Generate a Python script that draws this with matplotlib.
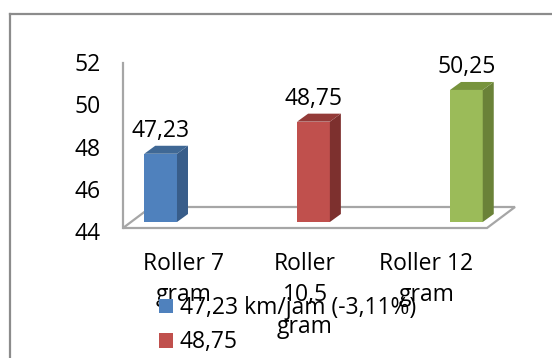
import matplotlib
matplotlib.use("Agg")
import matplotlib.pyplot as plt
from matplotlib.patches import Polygon, Patch
from matplotlib.lines import Line2D
from matplotlib.transforms import ScaledTranslation

plt.rcParams['font.family'] = ['Open Sans', 'DejaVu Sans']

# data
CATEGORIES = ["Roller 7\ngram", "Roller\n10,5\ngram", "Roller 12\ngram"]
SPEEDS = [47.23, 48.75, 50.25]
LEGEND_LABELS = ["47,23 km/jam (-3,11%)", "48,75"]
Y_TICKS = [44, 46, 48, 50, 52]

FRONT = ["#4F81BD", "#C0504D", "#9BBB59"]
SIDE = ["#385D8A", "#7D302E", "#6A8238"]
TOP = ["#3F6895", "#933A38", "#77933C"]
GRID_GREY = "#A6A6A6"

# layout of the fake 3d view (bars sit a bit behind the front plane)
BAR_POS = [-0.19, 1.07, 2.33]
BAR_W = 0.27
BAR_LIFT = 6         # px the bar base sits above the front floor edge
BAR_DEPTH = (11, 8)  # px
FLOOR_DEPTH = (28, 21)
FS = 16.5

W, H = 552, 358
fig = plt.figure(figsize=(W / 100, H / 100), dpi=100)
ax = fig.add_axes([123 / W, 1 - 228 / H, 364 / W, 169 / H])
ax.set_xlim(-0.5, 2.5)
ax.set_ylim(44, 52)
for s in ax.spines.values():
    s.set_visible(False)

# px -> data units
px_x = (2.5 - -0.5) / 364
px_y = (52 - 44) / 169


def px_shift(dx, dy):
    return ax.transData + ScaledTranslation(dx / 100, dy / 100, fig.dpi_scale_trans)


# floor
x0, x1 = ax.get_xlim()
fdx, fdy = FLOOR_DEPTH[0] * px_x, FLOOR_DEPTH[1] * px_y
floor = Polygon([(x0, 44), (x1, 44), (x1 + fdx, 44 + fdy), (x0 + fdx, 44 + fdy)],
                closed=True, facecolor="white", edgecolor=GRID_GREY, lw=1.6,
                clip_on=False, zorder=1)
ax.add_patch(floor)
# y axis line
ax.plot([x0, x0], [44, 51.8], color=GRID_GREY, lw=1.6, clip_on=False, zorder=1)

# bars
bdx, bdy = BAR_DEPTH[0] * px_x, BAR_DEPTH[1] * px_y
lift = px_shift(0, BAR_LIFT)
for i, (x, v) in enumerate(zip(BAR_POS, SPEEDS)):
    ax.bar(x, v - 44, bottom=44, width=BAR_W, color=FRONT[i], transform=lift,
           clip_on=False, zorder=3)
    l, r = x - BAR_W / 2, x + BAR_W / 2
    side = Polygon([(r, 44), (r, v), (r + bdx, v + bdy), (r + bdx, 44 + bdy)],
                   closed=True, facecolor=SIDE[i], edgecolor="none",
                   transform=lift, clip_on=False, zorder=3)
    top = Polygon([(l, v), (r, v), (r + bdx, v + bdy), (l + bdx, v + bdy)],
                  closed=True, facecolor=TOP[i], edgecolor="none",
                  transform=lift, clip_on=False, zorder=3)
    ax.add_patch(side)
    ax.add_patch(top)
    ax.text(x, v, f"{v:.2f}".replace(".", ","), ha="center", va="baseline",
            fontsize=FS, color="black", transform=px_shift(0, BAR_LIFT + 17),
            clip_on=False, zorder=4)

# axes text
ax.set_yticks(Y_TICKS)
ax.set_yticklabels([str(t) for t in Y_TICKS], fontsize=FS)
ax.set_xticks(range(len(CATEGORIES)))
ax.set_xticklabels(CATEGORIES, fontsize=FS, linespacing=1.42)
ax.tick_params(axis="y", length=0, pad=16)
ax.tick_params(axis="x", length=0, pad=17)
down = ScaledTranslation(0, -3 / 100, fig.dpi_scale_trans)
for lab in ax.get_yticklabels():
    lab.set_transform(lab.get_transform() + down)

# legend (only the two rows that fit in the picture)
handles = [Patch(facecolor=FRONT[0]), Patch(facecolor=FRONT[1])]
fig.legend(handles, LEGEND_LABELS, loc="upper left",
           bbox_to_anchor=(159 / W, 1 - 296 / H), frameon=False, fontsize=FS,
           borderpad=0, borderaxespad=0, handlelength=0.6, handleheight=0.6,
           handletextpad=0.3, labelspacing=0.45)

# outer chart frame, cut off on the right and at the bottom
fig.add_artist(Line2D([10 / W, 10 / W], [0, 1 - 14 / H], color="#8C8C8C", lw=1.6))
fig.add_artist(Line2D([10 / W, 1], [1 - 14 / H, 1 - 14 / H], color="#8C8C8C", lw=1.6))

fig.savefig("out.png", dpi=100)
